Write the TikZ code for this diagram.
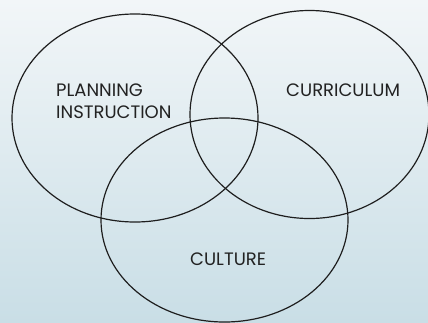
\documentclass[tikz,border=0pt]{standalone}
\usepackage{fontspec}
\setmainfont{Poppins}
\usepackage{tikz}
\definecolor{skytop}{HTML}{F2F6F8}
\definecolor{skybottom}{HTML}{C9DEE6}
\definecolor{ink}{HTML}{1E1E1E}
\definecolor{labelink}{HTML}{222222}

\begin{document}
\begin{tikzpicture}[
  x=1pt, y=-1pt,
  set/.style={draw=ink, line width=1.2pt},
  setlabel/.style={inner sep=0pt, text=labelink, font=\fontsize{18}{21.7}\selectfont, align=left}
]

% frame and shaded backdrop
\useasboundingbox (0,0) rectangle (428,322);
\clip (0,0) rectangle (428,322);
\shade[top color=skytop, bottom color=skybottom] (0,0) rectangle (428,322);

% the three sets
\draw[set] (135,118) ellipse [x radius=123, y radius=104];
\draw[set] (309.5,114.5) ellipse [x radius=119.5, y radius=104];
\draw[set] (224.5,220) ellipse [x radius=123.5, y radius=102];

% set names
\node[setlabel, anchor=west] (plan) at (56,101) {PLANNING\\INSTRUCTION};
\node[setlabel, anchor=base west] (curr) at (286,96.7) {CURRICULUM};
\node[setlabel, anchor=base west] (cult) at (190,265.7) {CULTURE};

\end{tikzpicture}
\end{document}
